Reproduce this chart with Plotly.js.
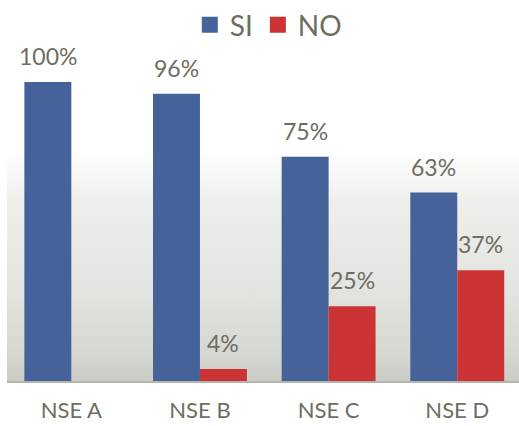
<!DOCTYPE html>
<html>
<head>
<meta charset="utf-8">
<script src="https://cdn.plot.ly/plotly-3.0.1.min.js"></script>
<style>
  html, body { margin: 0; padding: 0; background: #fff; }
  #chart { width: 519px; height: 426px; }
</style>
</head>
<body>
<div id="chart"></div>
<script>
var cats = ['NSE A', 'NSE B', 'NSE C', 'NSE D'];
var si = [100, 96, 75, 63];
var no = [0, 4, 25, 37];
var siName = 'SI', noName = 'NO';

var blue = '#45639a', red = '#cb3335', txt = '#6d6d62';
var font = 'Lato, "Open Sans", sans-serif';

// bars (legend is drawn by the two empty marker traces below)
var traceSi = { x: cats, y: si, type: 'bar', name: siName, marker: {color: blue}, showlegend: false, hoverinfo: 'none' };
var traceNo = { x: cats, y: no, type: 'bar', name: noName, marker: {color: red}, showlegend: false, hoverinfo: 'none' };
var legSi = { x: [null], y: [null], type: 'scatter', mode: 'markers', name: siName, marker: {symbol: 'square', size: 16, color: blue} };
var legNo = { x: [null], y: [null], type: 'scatter', mode: 'markers', name: noName, marker: {symbol: 'square', size: 16, color: red} };

// value labels above each bar
var notes = [];
function addLabels(vals, shift) {
  for (var i = 0; i < vals.length; i++) {
    if (vals[i] <= 0) continue;
    notes.push({ x: cats[i], y: vals[i], xref: 'x', yref: 'y', text: vals[i] + '%',
      showarrow: false, yanchor: 'bottom', xanchor: 'center', xshift: shift, yshift: 10,
      font: {family: font, size: 23, color: txt} });
  }
}
addLabels(si, -23.5);
addLabels(no, 23.5);

var grad = 'data:image/svg+xml;utf8,' + encodeURIComponent(
  '<svg xmlns="http://www.w3.org/2000/svg" width="10" height="100" preserveAspectRatio="none">' +
  '<defs><linearGradient id="g" x1="0" y1="0" x2="0" y2="1">' +
  '<stop offset="0" stop-color="#ffffff"/><stop offset="0.22" stop-color="#eeeeeb"/>' +
  '<stop offset="0.6" stop-color="#e3e3df"/><stop offset="0.85" stop-color="#d9d9d4"/>' +
  '<stop offset="1" stop-color="#cdcdc8"/></linearGradient></defs>' +
  '<rect width="10" height="100" fill="url(#g)"/></svg>');

var layout = {
  width: 519, height: 426,
  margin: {l: 7, r: 0, t: 52, b: 45},
  paper_bgcolor: '#ffffff', plot_bgcolor: '#ffffff',
  barmode: 'group', bargap: 0.27, bargroupgap: 0,
  font: {family: font, color: txt},
  showlegend: true,
  legend: { orientation: 'h', xref: 'container', yref: 'container', x: 0.517, xanchor: 'center',
    y: 0.941, yanchor: 'middle', font: {family: font, size: 28, color: txt} },
  images: [{ source: grad, xref: 'paper', yref: 'paper', x: 0, y: 0.70, sizex: 1, sizey: 0.70,
    xanchor: 'left', yanchor: 'top', sizing: 'stretch', layer: 'below' }],
  xaxis: { type: 'category', range: [-0.5, 3.48], showgrid: false, zeroline: false,
    showline: true, linecolor: '#b4b4ae', linewidth: 2, ticks: '', ticklabelstandoff: 9,
    tickfont: {family: font, size: 22, color: txt}, fixedrange: true },
  yaxis: { range: [0, 110], visible: false, showgrid: false, zeroline: false, fixedrange: true },
  annotations: notes
};

Plotly.newPlot('chart', [traceSi, traceNo, legSi, legNo], layout, {displayModeBar: false, staticPlot: true});
</script>
</body>
</html>
